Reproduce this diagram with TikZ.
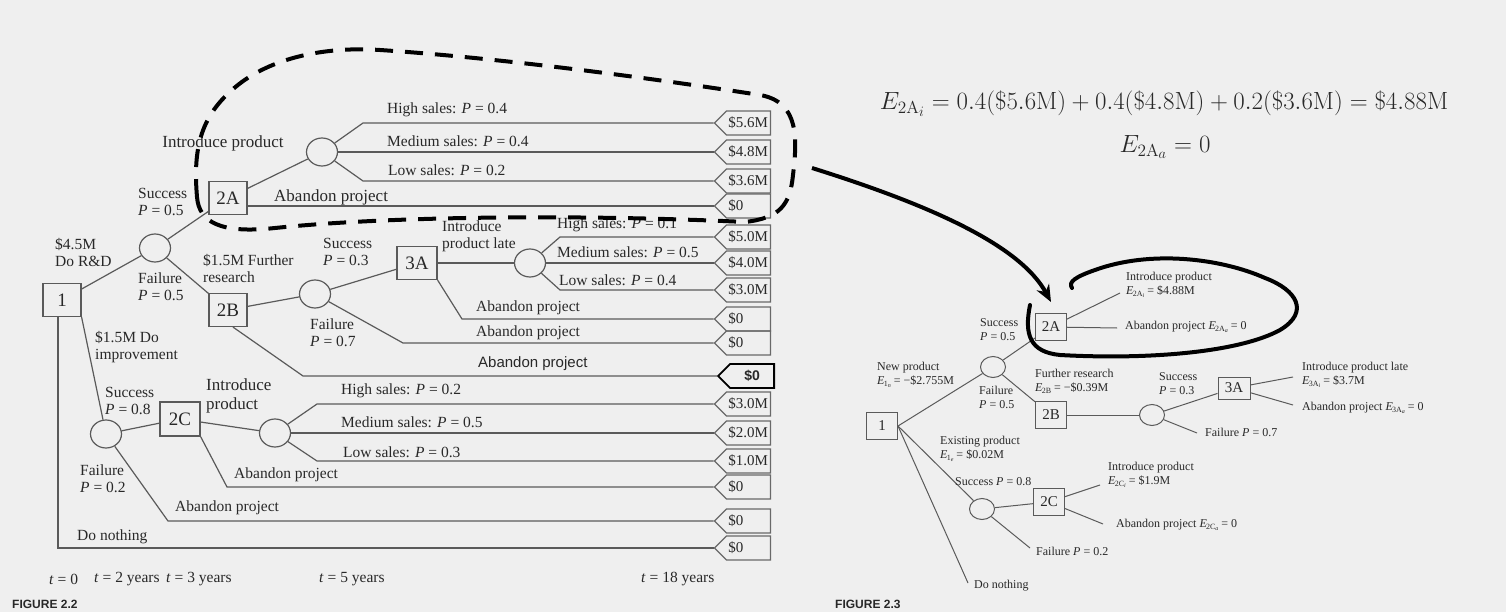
\documentclass[tikz,border=0pt]{standalone}
\usepackage{fontspec}
\usetikzlibrary{shapes.geometric,shapes.symbols,arrows.meta,calc}
\newfontfamily\tms{Liberation Serif}
\newfontfamily\arl{Liberation Sans}
\definecolor{bg}{RGB}{239,239,239}
\definecolor{ink}{RGB}{40,40,40}
\definecolor{ln}{RGB}{90,90,90}
\definecolor{tg}{RGB}{105,105,105}
\newcommand{\Esub}[2]{\textit{E}\kern-0.06em\raisebox{-0.35ex}{\fontsize{8}{8}\selectfont #1\raisebox{-0.3ex}{\fontsize{6}{6}\selectfont\textit{#2}}}}
\begin{document}
\begin{tikzpicture}[x=1pt,y=-1pt,
  every node/.style={text=ink},
  lbl/.style={font=\tms\fontsize{15.5}{17}\selectfont, anchor=west, align=left, inner sep=0pt},
  lblL/.style={lbl, font=\tms\fontsize{17}{19}\selectfont},
  dec/.style={draw=ln, line width=1.2pt, rectangle, minimum width=38, minimum height=33, inner sep=0pt, font=\tms\fontsize{19}{19}\selectfont},
  chance/.style={draw=ln, line width=1.2pt, ellipse, minimum width=31, minimum height=28, inner sep=0pt},
  tag/.style={draw=tg, line width=1.2pt, signal, signal to=west, signal from=nowhere, minimum height=24, inner xsep=2pt, inner ysep=0pt, text width=40, align=left, anchor=east, font=\tms\fontsize{15}{15}\selectfont},
  btag/.style={tag, draw=black, line width=1.8pt, align=center, font=\arl\bfseries\fontsize{14}{14}\selectfont},
  br/.style={draw=ln, line width=1.2pt},
  rlbl/.style={font=\tms\fontsize{12}{14}\selectfont, anchor=west, align=left, inner sep=0pt},
  rdec/.style={draw=ln, line width=1pt, rectangle, minimum width=31, minimum height=27, inner sep=0pt, font=\tms\fontsize{15}{15}\selectfont},
  rchance/.style={draw=ln, line width=1pt, ellipse, minimum width=25, minimum height=21, inner sep=0pt},
  rbr/.style={draw=ln, line width=1pt},
  hand/.style={draw=black, line width=4pt},
  figcap/.style={font=\arl\bfseries\fontsize{12}{12}\selectfont, anchor=west, inner sep=0pt}
]
\useasboundingbox (0,0) rectangle (1506,612);
\fill[bg] (0,0) rectangle (1506,612);
\clip (0,0) rectangle (1506,612);

% ---------------- left tree: nodes
\node[dec] (n1) at (62,300) {1};
\node[chance] (c1) at (155,248) {};
\node[dec] (n2A) at (228,198) {2A};
\node[chance] (c2A) at (322,152) {};
\node[dec] (n2B) at (228,310) {2B};
\node[chance] (c2B) at (315,294) {};
\node[dec, minimum width=40] (n3A) at (417,263) {3A};
\node[chance] (c3A) at (530,263) {};
\node[chance] (c1b) at (106,434) {};
\node[dec, minimum width=40, minimum height=34] (n2C) at (180,419) {2C};
\node[chance] (c2C) at (275,433) {};

% tags
\node[tag] (t1) at (771,123) {\$5.6M};
\node[tag] (t2) at (771,152) {\$4.8M};
\node[tag] (t3) at (771,181) {\$3.6M};
\node[tag] (t4) at (771,206) {\$0};
\node[tag] (t5) at (771,237) {\$5.0M};
\node[tag] (t6) at (771,263) {\$4.0M};
\node[tag] (t7) at (771,290) {\$3.0M};
\node[tag] (t8) at (771,319) {\$0};
\node[tag] (t9) at (771,343) {\$0};
\node[btag] (t10) at (775,376) {\$0};
\node[tag] (t11) at (771,404) {\$3.0M};
\node[tag] (t12) at (771,433) {\$2.0M};
\node[tag] (t13) at (771,461) {\$1.0M};
\node[tag] (t14) at (771,487) {\$0};
\node[tag] (t15) at (771,521) {\$0};
\node[tag] (t16) at (771,548) {\$0};

% connectors
\draw[br] (n1) -- (c1);
\draw[br] (c1) -- (n2A);
\draw[br] (c1) -- (n2B);
\draw[br] (n2A) -- (c2A);
\draw[br] (c2A) -- (363,123) -- (t1.west);
\draw[br] (c2A) -- (t2.west);
\draw[br] (c2A) -- (363,181) -- (t3.west);
\draw[br] (n2A.east |- t4.west) -- (t4.west);
\draw[br] (n2B) -- (c2B);
\draw[br] (c2B) -- (n3A);
\draw[br] (n3A) -- (c3A);
\draw[br] (c3A) -- (560,237) -- (t5.west);
\draw[br] (c3A) -- (t6.west);
\draw[br] (c3A) -- (560,290) -- (t7.west);
\draw[br] (n3A.south east) -- (462,319) -- (t8.west);
\draw[br] (c2B) -- (403,343) -- (t9.west);
\draw[br] ([xshift=5pt]n2B.south) -- (303,376) -- (t10.west);
\draw[br] (n1.south east) -- (c1b);
\draw[br] ([xshift=-4pt]n1.south) |- (t16.west);
\draw[br] (c1b) -- (n2C);
\draw[br] (n2C) -- (c2C);
\draw[br] (c2C) -- (317,404) -- (t11.west);
\draw[br] (c2C) -- (t12.west);
\draw[br] (c2C) -- (317,461) -- (t13.west);
\draw[br] (n2C.south east) -- (227,487) -- (t14.west);
\draw[br] (c1b) -- (168,521) -- (t15.west);

% labels
\node[lblL, anchor=center] (lIP) at (223,143) {Introduce product};
\node[lbl] (lS1) at (138,202) {Success\\\textit{P} = 0.5};
\node[lbl] (lRD) at (55,252) {\$4.5M\\Do R\&D};
\node[lbl] (lF1) at (138,287) {Failure\\\textit{P} = 0.5};
\node[lbl] (lFR) at (203,268) {\$1.5M Further\\research};
\node[lbl] (lS3) at (323,252) {Success\\\textit{P} = 0.3};
\node[lbl] (lF7) at (310,333) {Failure\\\textit{P} = 0.7};
\node[lbl] (lIL) at (442,236) {Introduce\\product late};
\node[lbl] (lH4) at (387,110) {High sales: \textit{P} = 0.4};
\node[lbl] (lM4) at (387,141) {Medium sales: \textit{P} = 0.4};
\node[lbl] (lL2) at (388,170) {Low sales: \textit{P} = 0.2};
\node[lblL] (lA2A) at (274,197) {Abandon project};
\node[lbl] (lH1) at (557,225) {High sales: \textit{P} = 0.1};
\node[lbl] (lM5) at (557,252) {Medium sales: \textit{P} = 0.5};
\node[lbl] (lL4) at (559,280) {Low sales: \textit{P} = 0.4};
\node[lbl] (lA3A) at (476,308) {Abandon project};
\node[lbl] (lA3b) at (476,333) {Abandon project};
\node[lbl, font=\arl\fontsize{15}{16}\selectfont] (lA2B) at (478,364) {Abandon project};
\node[lbl] (lDI) at (95,347) {\$1.5M Do\\improvement};
\node[lbl] (lS8) at (105,401) {Success\\\textit{P} = 0.8};
\node[lblL] (lI2C) at (206,396) {Introduce\\product};
\node[lbl] (lH2) at (341,391) {High sales: \textit{P} = 0.2};
\node[lbl] (lM5b) at (341,422) {Medium sales: \textit{P} = 0.5};
\node[lbl] (lL3) at (343,452) {Low sales: \textit{P} = 0.3};
\node[lbl] (lA2C) at (234,475) {Abandon project};
\node[lbl] (lF2) at (80,479) {Failure\\\textit{P} = 0.2};
\node[lbl] (lA1) at (175,508) {Abandon project};
\node[lbl] (lDN) at (77,537) {Do nothing};
\node[lbl] (tt0) at (49,579) {\textit{t} = 0};
\node[lbl] (tt2) at (94,579) {\textit{t} = 2 years};
\node[lbl] (tt3) at (166,579) {\textit{t} = 3 years};
\node[lbl] (tt5) at (319,579) {\textit{t} = 5 years};
\node[lbl] (tt18) at (641,579) {\textit{t} = 18 years};
\node[figcap] (fig2) at (12,604) {FIGURE 2.2};
\node[figcap] (fig3) at (835,604) {FIGURE 2.3};

% ---------------- formula
\node[font=\fontsize{20.74}{24}\selectfont, scale=1.2] (f1) at (1164,104) {$E_{2\mathrm{A}_i} = 0.4(\$5.6\mathrm{M}) + 0.4(\$4.8\mathrm{M}) + 0.2(\$3.6\mathrm{M}) = \$4.88\mathrm{M}$};
\node[font=\fontsize{20.74}{24}\selectfont, scale=1.2] (f2) at (1165,147) {$E_{2\mathrm{A}_a} = 0$};

% ---------------- right tree
\node[rdec] (r1) at (882,426) {1};
\node[rchance] (rc1) at (993,367) {};
\node[rdec] (r2A) at (1051,327) {2A};
\node[rdec] (r2B) at (1051,415) {2B};
\node[rchance] (rc2B) at (1152,415) {};
\node[rdec, minimum width=32, minimum height=22] (r3A) at (1234,388) {3A};
\node[rchance] (rc1b) at (982,509) {};
\node[rdec] (r2C) at (1049,502) {2C};

\coordinate (eA1) at (1120,293);
\coordinate (eA2) at (1117,328);
\coordinate (eF7) at (1197,433);
\coordinate (e3A1) at (1293,377);
\coordinate (e3A2) at (1293,405);
\coordinate (eF2) at (1030,548);
\coordinate (eC1) at (1100,485);
\coordinate (eC2) at (1103,524);
\coordinate (eDN) at (968,583);

\draw[rbr] (r1.east) -- (rc1);
\draw[rbr] (rc1) -- (r2A);
\draw[rbr] (rc1) -- (r2B);
\draw[rbr] (r2A) -- (eA1);
\draw[rbr] (r2A) -- (eA2);
\draw[rbr] (r2B) -- (rc2B);
\draw[rbr] (rc2B) -- (r3A);
\draw[rbr] (rc2B) -- (eF7);
\draw[rbr] (r3A) -- (e3A1);
\draw[rbr] (r3A) -- (e3A2);
\draw[rbr] (r1.east) -- (rc1b);
\draw[rbr] (r1.east) -- (eDN);
\draw[rbr] (rc1b) -- (r2C);
\draw[rbr] (rc1b) -- (eF2);
\draw[rbr] (r2C) -- (eC1);
\draw[rbr] (r2C) -- (eC2);

\node[rlbl] (rS5) at (980,330) {Success\\\textit{P} = 0.5};
\node[rlbl] (rNP) at (877,375) {New product\\\Esub{1}{n} = −\$2.755M};
\node[rlbl] (rF5) at (979,397) {Failure\\\textit{P} = 0.5};
\node[rlbl] (rFR) at (1035,382) {Further research\\\Esub{2B}{} = −\$0.39M};
\node[rlbl] (rIP) at (1126,285) {Introduce product\\\Esub{2A}{i} = \$4.88M};
\node[rlbl] (rAP) at (1125,327) {Abandon project \Esub{2A}{a} = 0};
\node[rlbl] (rS3) at (1159,384) {Success\\\textit{P} = 0.3};
\node[rlbl] (rIL) at (1302,375) {Introduce product late\\\Esub{3A}{i} = \$3.7M};
\node[rlbl] (rA3) at (1302,408) {Abandon project \Esub{3A}{a} = 0};
\node[rlbl] (rF7) at (1205,432) {Failure \textit{P} = 0.7};
\node[rlbl] (rEP) at (940,449) {Existing product\\\Esub{1}{e} = \$0.02M};
\node[rlbl] (rS8) at (955,482) {Success \textit{P} = 0.8};
\node[rlbl] (rIC) at (1108,475) {Introduce product\\\Esub{2C}{i} = \$1.9M};
\node[rlbl] (rAC) at (1116,525) {Abandon project \Esub{2C}{a} = 0};
\node[rlbl] (rF2) at (1036,551) {Failure \textit{P} = 0.2};
\node[rlbl] (rDN) at (974,586) {Do nothing};

% ---------------- hand-drawn annotations
\draw[hand, dash pattern=on 18pt off 12pt]
  (197,197) .. controls (193,150) and (200,118) .. (232,90)
  .. controls (265,60) and (320,46) .. (380,50)
  .. controls (500,58) and (650,78) .. (760,95)
  .. controls (800,102) and (797,140) .. (793,175)
  .. controls (790,205) and (780,218) .. (745,222)
  .. controls (600,215) and (400,215) .. (275,228)
  .. controls (220,234) and (199,222) .. (197,197) -- cycle;
\coordinate (arS) at (812,168);
\coordinate (arE) at (1051,302);
\draw[hand, -{Stealth[length=17pt,width=14pt]}] (arS) .. controls (930,205) and (1020,245) .. (arE);
\draw[hand, line cap=round]
  (1030,305) .. controls (1024,335) and (1030,352) .. (1060,355)
  .. controls (1150,360) and (1240,352) .. (1280,330)
  .. controls (1310,312) and (1297,290) .. (1265,278)
  .. controls (1220,258) and (1150,250) .. (1095,270)
  .. controls (1075,277) and (1068,282) .. (1072,288);
\end{tikzpicture}
\end{document}
